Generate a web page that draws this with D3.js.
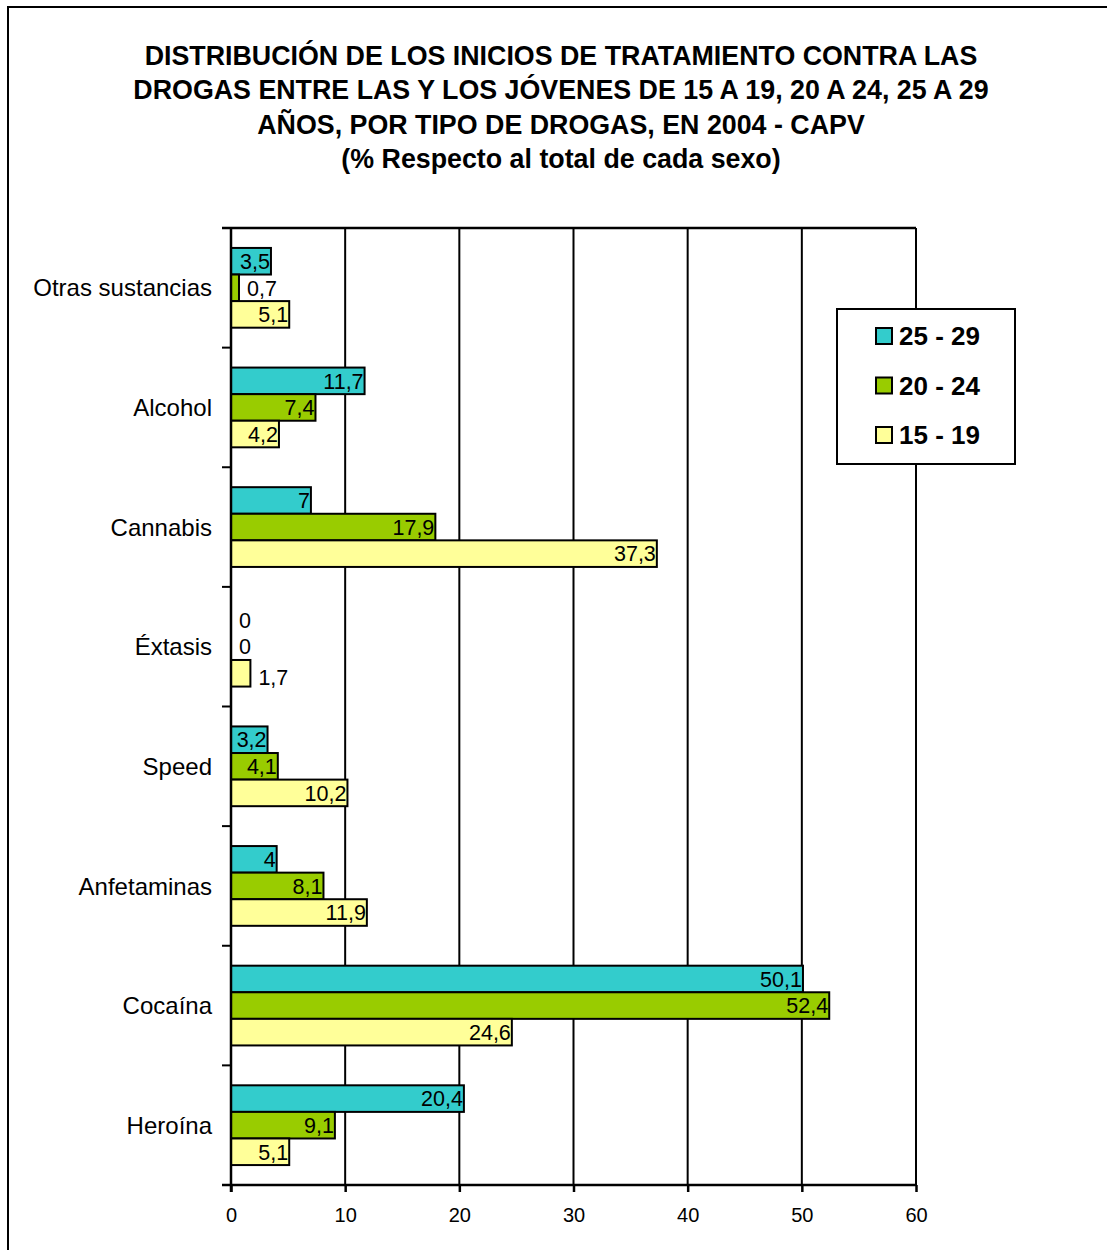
<!DOCTYPE html>
<html><head><meta charset="utf-8">
<script src="https://cdn.jsdelivr.net/npm/d3@7"></script>
<style>body{margin:0;background:#fff}svg{display:block;font-family:"Liberation Sans",Arial,sans-serif}</style>
</head><body>
<svg id="c" width="1107" height="1250"></svg>
<script>
const categories = ["Otras sustancias","Alcohol","Cannabis","Éxtasis","Speed","Anfetaminas","Cocaína","Heroína"];
const seriesNames = ["25 - 29","20 - 24","15 - 19"];
const s25_29 = [3.5, 11.7, 7, 0, 3.2, 4, 50.1, 20.4];
const s20_24 = [0.7, 7.4, 17.9, 0, 4.1, 8.1, 52.4, 9.1];
const s15_19 = [5.1, 4.2, 37.3, 1.7, 10.2, 11.9, 24.6, 5.1];
const xTicks = [0,10,20,30,40,50,60];
const titleLines = ["DISTRIBUCIÓN DE LOS INICIOS DE TRATAMIENTO CONTRA LAS",
  "DROGAS ENTRE LAS Y LOS JÓVENES DE 15 A 19, 20 A 24, 25 A 29",
  "AÑOS, POR TIPO DE DROGAS, EN 2004 - CAPV",
  "(% Respecto al total de cada sexo)"];
const colors = ["#33CCCC","#99CC00","#FFFF99"];
const seriesValues = [s25_29, s20_24, s15_19];

const svg = d3.select("#c");
svg.append("rect").attr("x",8).attr("y",7).attr("width",1120).attr("height",1270)
  .attr("fill","#fff").attr("stroke","#000").attr("stroke-width",2);

svg.append("g").selectAll("text").data(titleLines).join("text")
  .attr("x",561).attr("y",(d,i)=>64.5+i*34.5).attr("text-anchor","middle")
  .attr("font-size","26.8px").attr("font-weight","bold").attr("fill","#000").text(d=>d);

const L=231, R=916, T=228, B=1185;
const x = d3.scaleLinear().domain([0,60]).range([L,R]);
const y = d3.scaleBand().domain(categories).range([T,B]).paddingInner(1/3).paddingOuter(1/6);
const ySub = d3.scaleBand().domain(seriesNames).range([0,y.bandwidth()]);
const outer = d3.scaleBand().domain(categories).range([T,B]);

svg.append("g").selectAll("line").data(xTicks.slice(1)).join("line")
  .attr("x1",d=>x(d)).attr("x2",d=>x(d)).attr("y1",T).attr("y2",B)
  .attr("stroke","#000").attr("stroke-width",2);
svg.append("line").attr("x1",222).attr("x2",R).attr("y1",T).attr("y2",T).attr("stroke","#000").attr("stroke-width",2.5);

const data = [];
categories.forEach((c,i)=>seriesNames.forEach((s,j)=>data.push({c,s,j,v:seriesValues[j][i]})));
const g = svg.append("g");
g.selectAll("rect").data(data.filter(d=>d.v>0)).join("rect")
  .attr("x",x(0)).attr("y",d=>y(d.c)+ySub(d.s))
  .attr("width",d=>x(d.v)-x(0)).attr("height",ySub.bandwidth())
  .attr("fill",d=>colors[d.j]).attr("stroke","#000").attr("stroke-width",2);

const fmt = v => String(v).replace(".",",");
g.selectAll("text").data(data).join("text")
  .attr("x",d=>{const w=x(d.v)-x(0); return w>30 ? x(d.v)-1 : x(d.v)+8;})
  .attr("text-anchor",d=>(x(d.v)-x(0))>30?"end":"start")
  .attr("y",d=>y(d.c)+ySub(d.s)+ySub.bandwidth()/2+ (d.c==="Éxtasis"&&d.v>0?4:0))
  .attr("dy","0.36em").attr("font-size","21.5px").attr("fill","#000").text(d=>fmt(d.v));

svg.append("line").attr("x1",L).attr("x2",L).attr("y1",T).attr("y2",B+7).attr("stroke","#000").attr("stroke-width",2.5);
const bounds = categories.map(c=>outer(c)).concat([B]);
svg.append("g").selectAll("line").data(bounds).join("line")
  .attr("x1",222).attr("x2",L).attr("y1",d=>d).attr("y2",d=>d).attr("stroke","#000").attr("stroke-width",2);
svg.append("g").selectAll("text").data(categories).join("text")
  .attr("x",212).attr("y",c=>y(c)+y.bandwidth()/2).attr("dy","0.36em")
  .attr("text-anchor","end").attr("font-size","24px").attr("fill","#000").text(d=>d);

const xa = svg.append("g").attr("transform",`translate(0,${B})`)
  .call(d3.axisBottom(x).tickValues(xTicks).tickSize(7).tickPadding(16).tickFormat(d=>d));
xa.select(".domain").attr("stroke","#000").attr("stroke-width",2.5).attr("d",`M${L-9},0H${R}`);
xa.selectAll(".tick line").attr("stroke","#000").attr("stroke-width",2.5);
xa.selectAll(".tick text").attr("font-size","20px").attr("fill","#000").attr("font-family","Liberation Sans, Arial, sans-serif");

const lg = svg.append("g");
lg.append("rect").attr("x",837).attr("y",309).attr("width",178).attr("height",155)
  .attr("fill","#fff").attr("stroke","#000").attr("stroke-width",2);
seriesNames.forEach((s,i)=>{
  const cy = 336 + i*49.5;
  lg.append("rect").attr("x",876).attr("y",cy-8).attr("width",16).attr("height",16)
    .attr("fill",colors[i]).attr("stroke","#000").attr("stroke-width",2);
  lg.append("text").attr("x",899).attr("y",cy).attr("dy","0.36em")
    .attr("font-size","26px").attr("font-weight","bold").attr("fill","#000").text(s);
});
</script>
</body></html>
